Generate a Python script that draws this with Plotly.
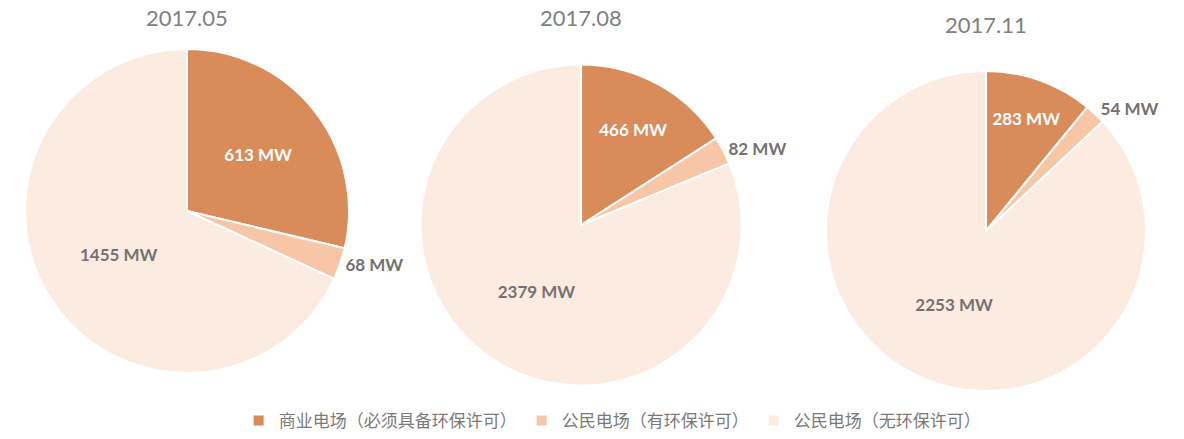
import plotly.graph_objects as go

categories = ["商业电场（必须具备环保许可）", "公民电场（有环保许可）", "公民电场（无环保许可）"]
periods = ["2017.05", "2017.08", "2017.11"]
values_2017_05 = [613, 68, 1455]
values_2017_08 = [466, 82, 2379]
values_2017_11 = [283, 54, 2253]
series = [values_2017_05, values_2017_08, values_2017_11]

colors = ["#D98B5A", "#F7C6A6", "#FBEBE1"]
text_colors = ["#FFFFFF", "#767171", "#767171"]
positions = ["inside", "outside", "inside"]

W, H = 1184, 439

# domains (paper coords) for each pie
domains = [
    dict(x=[0.0211, 0.2948], y=[0.1503, 0.8884]),
    dict(x=[0.3552, 0.6263], y=[0.1219, 0.8531]),
    dict(x=[0.6976, 0.9679], y=[0.1093, 0.8383]),
]
title_y = [0.959, 0.959, 0.945]

fig = go.Figure()
for i, (p, vals) in enumerate(zip(periods, series)):
    fig.add_trace(go.Pie(
        labels=categories,
        values=vals,
        sort=False,
        direction="clockwise",
        rotation=0,
        marker=dict(colors=colors, line=dict(color="white", width=2)),
        texttemplate="%{value} MW",
        textposition=positions,
        insidetextorientation="horizontal",
        textfont=dict(family="Lato, Open Sans, sans-serif", size=17, color=text_colors, weight="bold"),
        outsidetextfont=dict(family="Lato, Open Sans, sans-serif", size=17, color="#767171", weight="bold"),
        hoverinfo="label+value",
        showlegend=(i == 0),
        domain=domains[i],
        name=p,
    ))
    fig.add_annotation(
        text=p, x=(domains[i]["x"][0] + domains[i]["x"][1]) / 2, y=title_y[i],
        xref="paper", yref="paper", showarrow=False,
        font=dict(family="Lato, Open Sans, sans-serif", size=22, color="#808080"),
        xanchor="center", yanchor="middle",
    )

fig.update_layout(
    width=W, height=H,
    margin=dict(l=0, r=0, t=0, b=0),
    paper_bgcolor="white",
    plot_bgcolor="white",
    legend=dict(
        orientation="h", x=0.517, xanchor="center", y=0.0, yanchor="bottom",
        font=dict(family="Noto Sans CJK SC", size=17, color="#7A7A7A"),
        itemwidth=30, traceorder="normal",
    ),
)

fig.write_html("out.html", config={"displayModeBar": False},
               post_script="document.body.style.margin='0px';")
